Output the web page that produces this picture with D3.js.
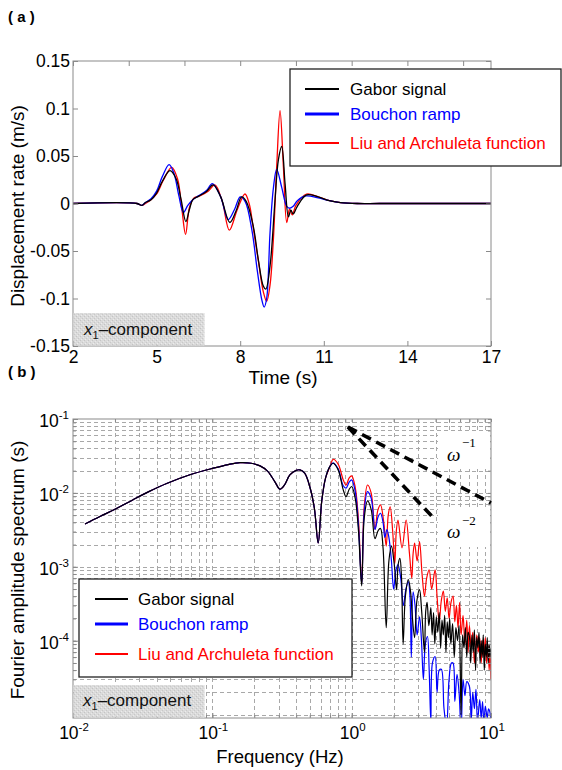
<!DOCTYPE html>
<html><head><meta charset="utf-8">
<script src="https://cdn.jsdelivr.net/npm/d3@7"></script>
<style>body{margin:0;background:#fff}svg{display:block}</style>
</head><body><svg id="c" width="562" height="770"></svg>
<script>
// ---------- DATA ----------
const seriesNames = ["Gabor signal", "Bouchon ramp", "Liu and Archuleta function"];
const seriesColors = ["#000000", "#0000ff", "#ff0000"];

// Panel (a): displacement rate (m/s) vs time (s)
const gaborWave = [[2,0],[4.3,0],[4.47,-0.002],[4.6,0.001],[4.8,0.004],[5.0,0.011],[5.2,0.023],[5.48,0.0345],[5.7,0.026],[5.88,0.004],[6.05,-0.019],[6.18,-0.006],[6.3,0.004],[6.5,0.0075],[6.8,0.013],[7.03,0.0195],[7.3,0.007],[7.63,-0.020],[7.85,-0.008],[8.05,0.007],[8.22,0.002],[8.47,-0.024],[8.65,-0.059],[8.83,-0.087],[8.92,-0.090],[9.07,-0.066],[9.25,0.004],[9.37,0.046],[9.49,0.060],[9.61,0.021],[9.73,-0.014],[9.82,-0.007],[9.9,-0.011],[10.05,-0.003],[10.38,0.009],[10.8,0.007],[11.2,0.003],[11.6,0.001],[12.2,0],[13,0],[17,0]];
const bouchonWave = [[2,0],[4.3,0],[4.47,-0.002],[4.6,0.001],[4.8,0.005],[5.0,0.013],[5.2,0.028],[5.45,0.041],[5.62,0.032],[5.8,0.008],[5.96,-0.0095],[6.12,-0.002],[6.3,0.004],[6.5,0.008],[6.8,0.014],[7.0,0.021],[7.3,0.007],[7.57,-0.017],[7.8,-0.006],[8.0,0.007],[8.18,0.002],[8.42,-0.028],[8.62,-0.072],[8.78,-0.102],[8.86,-0.109],[8.95,-0.100],[9.07,-0.031],[9.19,0.016],[9.31,0.036],[9.49,0.017],[9.67,-0.003],[9.78,-0.005],[9.9,-0.003],[10.05,0.003],[10.35,0.008],[10.8,0.006],[11.2,0.003],[11.6,0.001],[12.2,0],[13,0],[17,0]];
const liuWave = [[2,0],[4.3,0],[4.47,-0.002],[4.6,0.0],[4.8,0.004],[5.0,0.010],[5.25,0.025],[5.54,0.038],[5.75,0.026],[5.9,-0.004],[6.04,-0.0325],[6.18,-0.004],[6.35,0.006],[6.55,0.008],[6.85,0.013],[7.09,0.0195],[7.35,0.003],[7.61,-0.028],[7.9,-0.006],[8.17,0.010],[8.32,0.0],[8.47,-0.026],[8.66,-0.062],[8.83,-0.093],[8.95,-0.103],[9.07,-0.086],[9.19,-0.038],[9.31,0.039],[9.43,0.0977],[9.55,0.039],[9.67,-0.020],[9.77,-0.006],[9.87,-0.012],[10.0,-0.002],[10.38,0.010],[10.8,0.007],[11.2,0.003],[11.6,0.001],[12.2,0],[13,0],[17,0]];
const xTicksA = [2, 5, 8, 11, 14, 17];
const xTopTicksA = [2, 4, 6, 8, 10, 12, 14, 16];
const yTicksA = [-0.15, -0.1, -0.05, 0, 0.05, 0.1, 0.15];
const yTickLabelsA = ["-0.15", "-0.1", "-0.05", "0", "0.05", "0.1", "0.15"];

// Panel (b): Fourier amplitude spectrum (s) vs frequency (Hz)
const lowSpectrum = [[0.0122,0.0038],[0.0156,0.0048],[0.02,0.0060],[0.027,0.0081],[0.035,0.0104],[0.047,0.0134],[0.069,0.0176],[0.1015,0.0216],[0.13,0.0242],[0.158,0.0257],[0.19,0.0252],[0.22,0.0232],[0.25,0.0196],[0.282,0.0140],[0.306,0.0112],[0.33,0.0128],[0.36,0.0175],[0.40,0.0202],[0.425,0.0205],[0.46,0.0185],[0.50,0.0122],[0.54,0.0062],[0.575,0.0021],[0.61,0.0078],[0.65,0.0160],[0.70,0.0230]];
const gaborHigh = [[0.736,0.0252],[0.80,0.0205],[0.87,0.0110],[0.911,0.0089],[0.96,0.0112],[1.0,0.0122],[1.06,0.0085],[1.12,0.0030],[1.18,0.00055],[1.23,0.0045],[1.30,0.0078],[1.38,0.0060],[1.47,0.0024],[1.55,0.0031],[1.61,0.0033],[1.68,0.0018],[1.77,0.00015],[1.85,0.0012],[1.93,0.0019],[2.02,0.0011],[2.10,0.00049],[2.16,0.0011],[2.22,0.0013],[2.28,0.0007],[2.34,0.00009],[2.43,0.0004],[2.55,0.00067],[2.65,0.00045],[2.72,0.00022],[2.83,0.00011],[2.94,0.00035],[3.07,0.00049],[3.18,0.00025],[3.33,0.00007],[3.40,0.00025],[3.48,0.00033],[3.58,0.00016],[3.70,0.00028],[3.78,0.00012],[3.87,0.00024],[3.95,0.00009],[4.05,0.00021],[4.15,0.00013],[4.25,0.00024],[4.35,0.00008],[4.45,0.00019],[4.55,0.00012],[4.65,0.00022],[4.75,0.00007],[4.85,0.00018],[4.95,0.00011],[5.05,0.00020],[5.15,0.00009],[5.30,0.00017],[5.45,0.00006],[5.60,0.00015],[5.75,0.00010],[5.90,0.00016],[6.10,0.00001],[6.25,0.00012],[6.40,0.00008],[6.55,0.00015],[6.70,0.00006],[6.85,0.00013],[7.00,0.000114],[7.15,0.00005],[7.30,0.00012],[7.45,0.00007],[7.60,0.00014],[7.75,0.00004],[7.90,0.00011],[8.05,0.00008],[8.20,0.00013],[8.35,0.00005],[8.50,0.00010],[8.65,0.00006],[8.80,0.00012],[8.95,0.00004],[9.10,0.00009],[9.25,0.00006],[9.40,0.00011],[9.55,0.00005],[9.70,0.00009],[9.85,0.00006],[10.0,0.00008]];
const bouchonHigh = [[0.736,0.0255],[0.80,0.0210],[0.87,0.0125],[0.911,0.0116],[0.96,0.0140],[1.0,0.0150],[1.06,0.0105],[1.12,0.0035],[1.18,0.00058],[1.23,0.0055],[1.30,0.0104],[1.38,0.0085],[1.47,0.0032],[1.55,0.0048],[1.61,0.0053],[1.68,0.0040],[1.73,0.0025],[1.79,0.0032],[1.85,0.0025],[1.93,0.0012],[2.00,0.0005],[2.08,0.0009],[2.15,0.00107],[2.25,0.0007],[2.35,0.0003],[2.45,0.0005],[2.55,0.00063],[2.62,0.0004],[2.68,0.00006],[2.76,0.00046],[2.85,0.0003],[2.95,0.00012],[3.07,0.00021],[3.17,0.00010],[3.27,0.00003],[3.38,0.00009],[3.50,0.000114],[3.60,0.00004],[3.70,0.000008],[3.80,0.00005],[3.97,0.000061],[4.10,0.00002],[4.25,0.00004],[4.40,0.000041],[4.60,0.000012],[4.80,0.000007],[5.00,0.00003],[5.20,0.00005],[5.34,0.00005],[5.50,0.000015],[5.70,0.000035],[5.90,0.00002],[6.10,0.000006],[6.30,0.00003],[6.50,0.000018],[6.70,0.000028],[7.00,0.000024],[7.20,0.000008],[7.40,0.00002],[7.60,0.000012],[7.80,0.000022],[8.00,0.000008],[8.30,0.000016],[8.50,0.000009],[8.70,0.000015],[8.90,0.000007],[9.10,0.000013],[9.40,0.000009],[9.60,0.000012],[9.80,0.000011],[10.0,0.000008]];
const liuHigh = [[0.736,0.0285],[0.80,0.0245],[0.87,0.0150],[0.911,0.0128],[0.96,0.0160],[1.0,0.0170],[1.06,0.0120],[1.12,0.0042],[1.18,0.0006],[1.23,0.0065],[1.30,0.0128],[1.38,0.0100],[1.47,0.0032],[1.54,0.0058],[1.61,0.0069],[1.70,0.0040],[1.77,0.0019],[1.83,0.0050],[1.89,0.0065],[1.97,0.0030],[2.04,0.0011],[2.09,0.0030],[2.15,0.0043],[2.30,0.0018],[2.46,0.0043],[2.60,0.0015],[2.70,0.0007],[2.76,0.0015],[2.83,0.0021],[2.95,0.0012],[3.07,0.0022],[3.20,0.0008],[3.33,0.0004],[3.45,0.0007],[3.60,0.00091],[3.75,0.0005],[3.97,0.00091],[4.10,0.0004],[4.25,0.00018],[4.40,0.00035],[4.55,0.00047],[4.70,0.00025],[4.85,0.00038],[5.00,0.00020],[5.15,0.00032],[5.34,0.00040],[5.50,0.00018],[5.65,0.00030],[5.80,0.00015],[5.95,0.00033],[6.10,0.00012],[6.30,0.00022],[6.50,0.00009],[6.70,0.00019],[6.85,0.00007],[7.00,0.00016],[7.20,0.00008],[7.40,0.00013],[7.60,0.00005],[7.90,0.00012],[8.10,0.00007],[8.30,0.00011],[8.50,0.00005],[8.70,0.00010],[8.90,0.00006],[9.10,0.00011],[9.30,0.00005],[9.50,0.00009],[9.70,0.00004],[9.85,0.00007],[10.0,0.00003]];
const xDecadeExpB = [-2, -1, 0, 1];
const yDecadeExpB = [-4, -3, -2, -1];
const omegaMinus1 = [[0.94,0.078],[10,0.0073]];
const omegaMinus2 = [[0.94,0.078],[3.9,0.0045]];

// ---------- DRAWING ----------
const FONT = "'Liberation Sans', Arial, Helvetica, sans-serif";
const SERIF = "'Liberation Serif', 'Times New Roman', serif";
const AX = "#8a8a8a";
const TICKFS = 17.5, LEGFS = 17, TITLEFS = 19;
const svg = d3.select("#c");
const defs = svg.append("defs");
const pat = defs.append("pattern").attr("id","stip").attr("width",4).attr("height",4).attr("patternUnits","userSpaceOnUse");
pat.append("rect").attr("width",4).attr("height",4).attr("fill","#dadada");
pat.append("rect").attr("x",0).attr("y",0).attr("width",1).attr("height",1).attr("fill","#c4c4c4");
pat.append("rect").attr("x",2).attr("y",2).attr("width",1).attr("height",1).attr("fill","#c8c8c8");
pat.append("rect").attr("x",1).attr("y",3).attr("width",1).attr("height",1).attr("fill","#ececec");
pat.append("rect").attr("x",3).attr("y",1).attr("width",1).attr("height",1).attr("fill","#e8e8e8");

const A = {l:73, r:491, t:61, b:346};
const B = {l:73, r:491, t:419, b:718};
defs.append("clipPath").attr("id","clipA").append("rect").attr("x",A.l).attr("y",A.t).attr("width",A.r-A.l).attr("height",A.b-A.t);
defs.append("clipPath").attr("id","clipB").append("rect").attr("x",B.l).attr("y",B.t).attr("width",B.r-B.l).attr("height",B.b-B.t);

function styleAxis(g){
  g.attr("font-family",FONT).attr("font-size",TICKFS);
  g.select(".domain").remove();
  g.selectAll(".tick line").attr("stroke",AX);
  g.selectAll("text").attr("fill","#000");
}
function componentLabel(x, y){
  const t = svg.append("text").attr("x",x).attr("y",y).attr("font-family",FONT).attr("font-size",LEGFS).attr("fill","#111");
  t.append("tspan").attr("font-style","italic").text("x");
  t.append("tspan").attr("font-size",11).attr("dy",4).text("1");
  t.append("tspan").attr("dy",-4).text("\u2013component");
}
function legend(x, y, w, h, rows, lx1, lx2, tx){
  svg.append("rect").attr("x",x).attr("y",y).attr("width",w).attr("height",h).attr("fill","#fff").attr("stroke","#222").attr("stroke-width",1.3);
  seriesNames.forEach((n,i)=>{
    svg.append("line").attr("x1",lx1).attr("x2",lx2).attr("y1",rows[i]).attr("y2",rows[i]).attr("stroke",seriesColors[i]).attr("stroke-width", i===1?3:2);
    svg.append("text").attr("x",tx).attr("y",rows[i]+6).attr("font-family",FONT).attr("font-size",LEGFS).attr("fill",seriesColors[i]).text(n);
  });
}

// ----- Panel (a) -----
svg.append("text").attr("x",8).attr("y",22).attr("font-family",FONT).attr("font-weight","bold").attr("font-size",15).text("( a )");
const xa = d3.scaleLinear().domain([2,17]).range([A.l,A.r]);
const ya = d3.scaleLinear().domain([-0.15,0.15]).range([A.b,A.t]);
const lineA = d3.line().x(d=>xa(d[0])).y(d=>ya(d[1])).curve(d3.curveCatmullRom.alpha(0.5));
const waves = [gaborWave, bouchonWave, liuWave];
const gA = svg.append("g").attr("clip-path","url(#clipA)");
[2,1,0].forEach(i => gA.append("path").attr("d",lineA(waves[i])).attr("fill","none").attr("stroke",seriesColors[i]).attr("stroke-width",1.3));

svg.append("g").attr("transform",`translate(0,${A.b})`).call(d3.axisBottom(xa).tickValues(xTicksA).tickSize(-5).tickPadding(5).tickFormat(d3.format("d"))).call(styleAxis);
svg.append("g").attr("transform",`translate(0,${A.t})`).call(d3.axisTop(xa).tickValues(xTopTicksA).tickSize(-5).tickFormat("")).call(styleAxis);
svg.append("g").attr("transform",`translate(${A.l},0)`).call(d3.axisLeft(ya).tickValues(yTicksA).tickSize(-5).tickPadding(3).tickFormat((d,i)=>yTickLabelsA[i])).call(styleAxis);
svg.append("g").attr("transform",`translate(${A.r},0)`).call(d3.axisRight(ya).tickValues(yTicksA).tickSize(-5).tickFormat("")).call(styleAxis);
svg.append("rect").attr("x",A.l).attr("y",A.t).attr("width",A.r-A.l).attr("height",A.b-A.t).attr("fill","none").attr("stroke",AX);

svg.append("rect").attr("x",A.l+0.5).attr("y",313).attr("width",131).attr("height",A.b-313-0.5).attr("fill","url(#stip)");
componentLabel(84, 335);
legend(290, 69, 271, 97, [89,114,143], 305, 339, 350);

svg.append("text").attr("transform","translate(24,206) rotate(-90)").attr("text-anchor","middle").attr("font-family",FONT).attr("font-size",TITLEFS).text("Displacement rate (m/s)");
svg.append("text").attr("x",283).attr("y",384).attr("text-anchor","middle").attr("font-family",FONT).attr("font-size",TITLEFS).text("Time (s)");

// ----- Panel (b) -----
svg.append("text").attr("x",8).attr("y",377).attr("font-family",FONT).attr("font-weight","bold").attr("font-size",15).text("( b )");
const xb = d3.scaleLog().domain([0.01,10]).range([B.l,B.r]);
const yb = d3.scaleLog().domain([9e-6,0.1]).range([B.b,B.t]);

const grid = svg.append("g").attr("stroke","#a8a8a8").attr("stroke-width",1).attr("stroke-dasharray","4,3").attr("shape-rendering","crispEdges");
const xMinor = [], yMinor = [];
[-2,-1,0].forEach(e=>{ for(let m=1;m<=9;m++) xMinor.push(m*Math.pow(10,e)); });
xMinor.push(10);
[-6,-5,-4,-3,-2].forEach(e=>{ for(let m=1;m<=9;m++) yMinor.push(m*Math.pow(10,e)); });
yMinor.push(0.1);
xMinor.filter(v=>v>0.0101 && v<9.9).forEach(v=>{
  const x = Math.round(xb(v))+0.5;
  grid.append("line").attr("x1",x).attr("x2",x).attr("y1",B.t).attr("y2",B.b);
});
yMinor.filter(v=>v>9.1e-6 && v<0.099).forEach(v=>{
  const y = Math.round(yb(v))+0.5;
  grid.append("line").attr("x1",B.l).attr("x2",B.r).attr("y1",y).attr("y2",y);
});

const lineB = d3.line().x(d=>xb(d[0])).y(d=>yb(Math.max(d[1],1e-7))).curve(d3.curveCatmullRom.alpha(0.5));
const specs = [lowSpectrum.concat(gaborHigh), lowSpectrum.concat(bouchonHigh), lowSpectrum.concat(liuHigh)];
const gB = svg.append("g").attr("clip-path","url(#clipB)");
[2,1,0].forEach(i => gB.append("path").attr("d",lineB(specs[i])).attr("fill","none").attr("stroke",seriesColors[i]).attr("stroke-width",1.2).attr("stroke-linejoin","round"));

// minor + major ticks
const xMaj = xDecadeExpB.map(e=>Math.pow(10,e));
const yMaj = [-5].concat(yDecadeExpB).map(e=>Math.pow(10,e));
svg.append("g").attr("transform",`translate(0,${B.b})`).call(d3.axisBottom(xb).tickValues(xMinor).tickSize(-3).tickFormat("")).call(styleAxis);
svg.append("g").attr("transform",`translate(0,${B.b})`).call(d3.axisBottom(xb).tickValues(xMaj).tickSize(-5).tickFormat("")).call(styleAxis);
svg.append("g").attr("transform",`translate(0,${B.t})`).call(d3.axisTop(xb).tickValues(xMinor).tickSize(-3).tickFormat("")).call(styleAxis);
svg.append("g").attr("transform",`translate(${B.l},0)`).call(d3.axisLeft(yb).tickValues(yMinor.filter(v=>v>9e-6)).tickSize(-3).tickFormat("")).call(styleAxis);
svg.append("g").attr("transform",`translate(${B.l},0)`).call(d3.axisLeft(yb).tickValues(yMaj).tickSize(-5).tickFormat("")).call(styleAxis);
svg.append("g").attr("transform",`translate(${B.r},0)`).call(d3.axisRight(yb).tickValues(yMinor.filter(v=>v>9e-6)).tickSize(-3).tickFormat("")).call(styleAxis);
svg.append("rect").attr("x",B.l).attr("y",B.t).attr("width",B.r-B.l).attr("height",B.b-B.t).attr("fill","none").attr("stroke",AX);

xDecadeExpB.forEach(e=>{
  const t = svg.append("text").attr("x",xb(Math.pow(10,e))+1).attr("y",739).attr("text-anchor","middle").attr("font-family",FONT).attr("font-size",TICKFS);
  t.append("tspan").text("10");
  t.append("tspan").attr("font-size",11.5).attr("dy",-8).text(String(e));
});
yDecadeExpB.forEach(e=>{
  const t = svg.append("text").attr("x",69).attr("y",yb(Math.pow(10,e))+8).attr("text-anchor","end").attr("font-family",FONT).attr("font-size",TICKFS);
  t.append("tspan").text("10");
  t.append("tspan").attr("font-size",11.5).attr("dy",-8).text(String(e));
});

// slope reference lines and labels
svg.append("rect").attr("x",438).attr("y",433).attr("width",52).attr("height",36).attr("fill","#fff");
svg.append("rect").attr("x",438).attr("y",509).attr("width",52).attr("height",38).attr("fill","#fff");
const lineRef = d3.line().x(d=>xb(d[0])).y(d=>yb(d[1]));
[omegaMinus1, omegaMinus2].forEach(r=>svg.append("path").attr("d",lineRef(r)).attr("fill","none").attr("stroke","#000").attr("stroke-width",3.6).attr("stroke-dasharray","10,6"));
[[461,447,"\u22121"],[538,525,"\u22122"]].forEach(p=>{
  svg.append("text").attr("x",447).attr("y",p[0]).attr("font-family",SERIF).attr("font-style","italic").attr("font-size",19).text("\u03C9");
  svg.append("text").attr("x",462).attr("y",p[1]).attr("font-family",SERIF).attr("font-size",13).text(p[2]);
});

legend(79, 579, 273, 98, [599,624,654], 95, 128, 138);
svg.append("rect").attr("x",B.l+0.5).attr("y",685).attr("width",131).attr("height",B.b-685-0.5).attr("fill","url(#stip)");
componentLabel(83, 706);

svg.append("text").attr("transform","translate(24,570) rotate(-90)").attr("text-anchor","middle").attr("font-family",FONT).attr("font-size",TITLEFS).text("Fourier amplitude spectrum (s)");
svg.append("text").attr("x",280).attr("y",763).attr("text-anchor","middle").attr("font-family",FONT).attr("font-size",18.5).text("Frequency (Hz)");
</script></body></html>
